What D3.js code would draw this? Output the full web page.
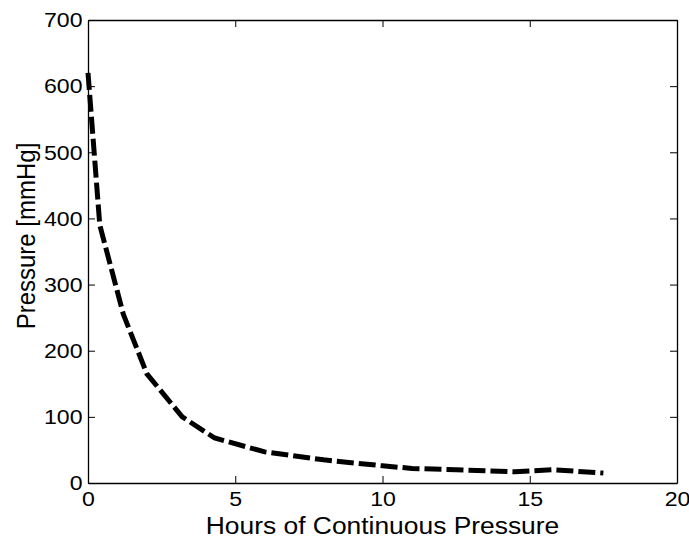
<!DOCTYPE html>
<html>
<head>
<meta charset="utf-8">
<script src="https://cdn.jsdelivr.net/npm/d3@7"></script>
<style>
  body { margin: 0; background: #fff; }
  svg { display: block; }
  text { font-family: "Liberation Sans", Arial, sans-serif; fill: #000; }
</style>
</head>
<body>
<script>
// hours of continuous pressure vs tolerated pressure
const hours = [0, 0.4, 1.2, 2, 3.2, 4.3, 6, 8, 10, 11, 12.5, 14.5, 15.8, 17.5];
const pressure = [620, 390, 255, 165, 100, 68, 47, 35, 26, 22, 20, 17, 20, 15];
const xTicks = [0, 5, 10, 15, 20];
const yTicks = [0, 100, 200, 300, 400, 500, 600, 700];

const width = 689, height = 541;
const margin = { top: 20, right: 12, bottom: 58, left: 88 };
const stretch = 1.1; // the figure text looks a bit wide

const svg = d3.select("body").append("svg")
  .attr("width", width)
  .attr("height", height);

const x = d3.scaleLinear().domain([0, 20]).range([margin.left, width - margin.right]);
const y = d3.scaleLinear().domain([0, 700]).range([height - margin.bottom, margin.top]);

const data = hours.map((h, i) => ({ h: h, p: pressure[i] }));

function styleAxis(g) {
  g.select(".domain").attr("stroke", "#000").attr("stroke-width", 1.3);
  g.selectAll(".tick line").attr("stroke", "#000").attr("stroke-width", 1);
  g.selectAll(".tick text")
    .style("font-size", "21px")
    .attr("fill", "#000")
    .attr("transform", `scale(${stretch},1)`);
}

// bottom + left axes with inward ticks
svg.append("g")
  .attr("transform", `translate(0,${y(0)})`)
  .call(d3.axisBottom(x).tickValues(xTicks).tickSize(-7).tickSizeOuter(0).tickPadding(8))
  .call(styleAxis);

svg.append("g")
  .attr("transform", `translate(${x(0)},0)`)
  .call(d3.axisLeft(y).tickValues(yTicks).tickSize(-7).tickSizeOuter(0).tickPadding(5))
  .call(styleAxis);

// top + right box with ticks, no labels
svg.append("g")
  .attr("transform", `translate(0,${y(700)})`)
  .call(d3.axisTop(x).tickValues(xTicks).tickSize(-7).tickSizeOuter(0).tickFormat(""))
  .call(styleAxis);

svg.append("g")
  .attr("transform", `translate(${x(20)},0)`)
  .call(d3.axisRight(y).tickValues(yTicks).tickSize(-7).tickSizeOuter(0).tickFormat(""))
  .call(styleAxis);

const line = d3.line()
  .x(d => x(d.h))
  .y(d => y(d.p));

svg.append("path")
  .datum(data)
  .attr("d", line)
  .attr("fill", "none")
  .attr("stroke", "#000")
  .attr("stroke-width", 5)
  .attr("stroke-dasharray", "17,5")
  .attr("stroke-linejoin", "miter");

// axis titles
svg.append("text")
  .attr("transform", `translate(${(x(0) + x(20)) / 2},534) scale(${stretch},1)`)
  .attr("text-anchor", "middle")
  .style("font-size", "24px")
  .text("Hours of Continuous Pressure");

svg.append("text")
  .attr("transform", `translate(35,236) scale(${stretch},1) rotate(-90)`)
  .attr("text-anchor", "middle")
  .style("font-size", "24px")
  .text("Pressure [mmHg]");
</script>
</body>
</html>
